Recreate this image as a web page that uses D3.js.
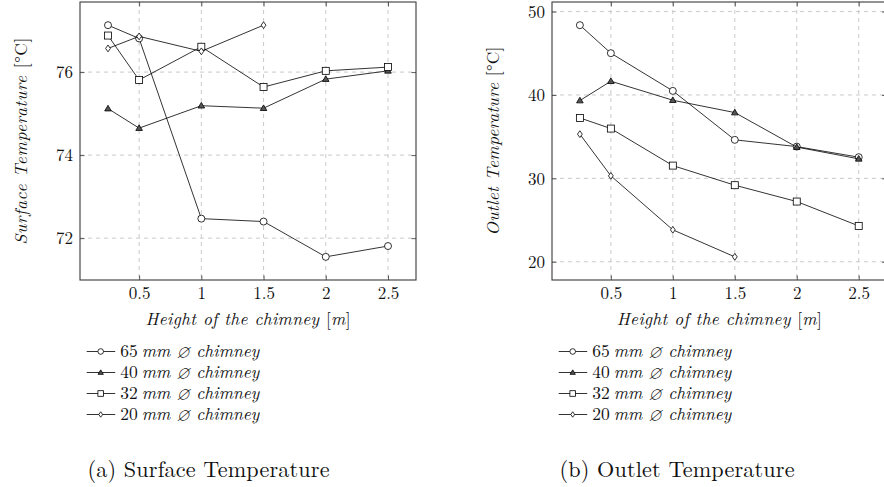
<!DOCTYPE html>
<html><head><meta charset="utf-8">
<script src="https://cdn.jsdelivr.net/npm/d3@7"></script>
<style>
html,body{margin:0;padding:0;background:#fff;}
</style></head>
<body>
<svg id="chart" width="884" height="487"></svg>
<script>
const heights = [0.25, 0.5, 1, 1.5, 2, 2.5];
const xTicks = [0.5, 1, 1.5, 2, 2.5];
const seriesNames = ["65", "40", "32", "20"];
const seriesMarkers = ["circle", "triangle", "square", "diamond"];
const surface65 = [77.13, 76.81, 72.47, 72.40, 71.55, 71.81];
const surface40 = [75.12, 74.65, 75.19, 75.13, 75.83, 76.03];
const surface32 = [76.88, 75.81, 76.61, 75.64, 76.03, 76.12];
const surface20 = [76.57, 76.86, 76.50, 77.13];
const outlet65 = [48.37, 45.01, 40.49, 34.62, 33.81, 32.54];
const outlet40 = [39.33, 41.65, 39.37, 37.89, 33.75, 32.34];
const outlet32 = [37.25, 35.97, 31.53, 29.18, 27.22, 24.30];
const outlet20 = [35.30, 30.30, 23.83, 20.59];
const surfaceTicks = [72, 74, 76];
const outletTicks = [20, 30, 40, 50];

const svg = d3.select("#chart");
const FONT = "'Latin Modern Roman', 'Liberation Serif', serif";

function enlarge(ext) { const d = (ext[1] - ext[0]) * 0.1; return [ext[0] - d, ext[1] + d]; }

function marker(g, type, x, y, s) {
  if (type === "circle") {
    g.append("circle").attr("cx", x).attr("cy", y).attr("r", 3.5 * s).attr("fill", "#fff").attr("stroke", "#000").attr("stroke-width", 0.8);
  } else if (type === "square") {
    const h = 3.5 * s;
    g.append("rect").attr("x", x - h).attr("y", y - h).attr("width", 2 * h).attr("height", 2 * h).attr("fill", "#fff").attr("stroke", "#000").attr("stroke-width", 0.8);
  } else if (type === "triangle") {
    const h = 3.3 * s;
    g.append("path").attr("d", `M${x},${y - h}L${x + h},${y + h * 0.7}L${x - h},${y + h * 0.7}Z`).attr("fill", "#555").attr("stroke", "#000").attr("stroke-width", 0.8);
  } else {
    const w = 2.4 * s, h = 3.4 * s;
    g.append("path").attr("d", `M${x},${y - h}L${x + w},${y}L${x},${y + h}L${x - w},${y}Z`).attr("fill", "#fff").attr("stroke", "#000").attr("stroke-width", 0.8);
  }
}

function panel(opts) {
  const { left, right, top, bottom, series, yTicks, yLabel, caption, yLabelX, yLabelLen, capLen } = opts;
  const g = svg.append("g");
  const allVals = series.flat();
  const x = d3.scaleLinear().domain(enlarge(d3.extent(heights))).range([left, right]);
  const y = d3.scaleLinear().domain(enlarge(d3.extent(allVals))).range([bottom, top]);

  g.selectAll(".gx").data(xTicks).enter().append("line")
    .attr("x1", d => x(d)).attr("x2", d => x(d)).attr("y1", top).attr("y2", bottom)
    .attr("stroke", "#c4c4c4").attr("stroke-width", 0.9).attr("stroke-dasharray", "4,4");
  g.selectAll(".gy").data(yTicks).enter().append("line")
    .attr("x1", left).attr("x2", right).attr("y1", d => y(d)).attr("y2", d => y(d))
    .attr("stroke", "#c4c4c4").attr("stroke-width", 0.9).attr("stroke-dasharray", "4,4");

  const ax = g.append("g").attr("transform", `translate(0,${bottom})`)
    .call(d3.axisBottom(x).tickValues(xTicks).tickSize(-4.5).tickPadding(6.5).tickFormat(d3.format("")));
  const ay = g.append("g").attr("transform", `translate(${left},0)`)
    .call(d3.axisLeft(y).tickValues(yTicks).tickSize(-4.5).tickPadding(7).tickFormat(d3.format("")));
  const axT = g.append("g").attr("transform", `translate(0,${top})`)
    .call(d3.axisTop(x).tickValues(xTicks).tickSize(-4.5).tickFormat(""));
  const ayR = g.append("g").attr("transform", `translate(${right},0)`)
    .call(d3.axisRight(y).tickValues(yTicks).tickSize(-4.5).tickFormat(""));
  [ax, ay, axT, ayR].forEach(a => {
    a.attr("font-family", null);
    a.select(".domain").remove();
    a.selectAll(".tick line").attr("stroke", "#333").attr("stroke-width", 0.8);
    a.selectAll("text").style("font-family", FONT).attr("font-size", 17).attr("fill", "#111");
  });
  ax.selectAll("text").attr("dy", "0.71em");
  ay.selectAll("text").attr("dy", "0.34em");

  g.append("rect").attr("x", left).attr("y", top).attr("width", right - left).attr("height", bottom - top)
    .attr("fill", "none").attr("stroke", "#3a3a3a").attr("stroke-width", 1.1);

  const line = d3.line().x((d, i) => x(heights[i])).y(d => y(d));
  series.forEach((vals, si) => {
    g.append("path").attr("d", line(vals)).attr("fill", "none").attr("stroke", "#000").attr("stroke-width", 0.8);
    vals.forEach((v, i) => marker(g, seriesMarkers[si], x(heights[i]), y(v), 1));
  });

  // x label
  const xl = g.append("text").attr("x", (left + right) / 2).attr("y", 325)
    .attr("text-anchor", "middle").attr("font-size", 17.5).attr("fill", "#111")
    .style("font-family", FONT).attr("textLength", 205).attr("lengthAdjust", "spacing");
  xl.append("tspan").attr("font-style", "italic").text("Height of the chimney ");
  xl.append("tspan").text("[");
  xl.append("tspan").attr("font-style", "italic").text("m");
  xl.append("tspan").text("]");

  // y label
  const yl = g.append("text").attr("transform", `translate(${yLabelX},${(top + bottom) / 2}) rotate(-90)`)
    .attr("text-anchor", "middle").attr("font-size", 17.5).attr("fill", "#111")
    .style("font-family", FONT).attr("textLength", yLabelLen).attr("lengthAdjust", "spacing");
  yl.append("tspan").attr("font-style", "italic").text(yLabel + " ");
  yl.append("tspan").text("[°C]");

  // legend
  const lx = left + 6.7;
  seriesNames.forEach((name, i) => {
    const cy = 351.5 + i * 21;
    g.append("line").attr("x1", lx).attr("x2", lx + 28.5).attr("y1", cy).attr("y2", cy).attr("stroke", "#000").attr("stroke-width", 0.8);
    marker(g, seriesMarkers[i], lx + 14, cy, 0.8);
    const num = g.append("text").attr("x", lx + 33.5).attr("y", cy + 5.5).attr("font-size", 17.5).attr("fill", "#111")
      .style("font-family", FONT).text(name);
    const w = num.node().getComputedTextLength();
    g.append("text").attr("x", lx + 33.5 + w + 4).attr("y", cy + 5.5).attr("font-size", 17.5).attr("fill", "#111")
      .attr("font-style", "italic").style("font-family", FONT).text("mm ⌀ chimney");
  });

  // caption
  g.append("text").attr("x", left + 7.5).attr("y", 476.5).attr("font-size", 22.2).attr("fill", "#111")
    .style("font-family", FONT).attr("textLength", capLen).attr("lengthAdjust", "spacing").text(caption);
}

panel({ left: 80, right: 416, top: 2, bottom: 280, series: [surface65, surface40, surface32, surface20],
  yTicks: surfaceTicks, yLabel: "Surface Temperature", caption: "(a) Surface Temperature", yLabelX: 27,
  yLabelLen: 207, capLen: 242 });
panel({ left: 552, right: 886.6, top: 2, bottom: 280, series: [outlet65, outlet40, outlet32, outlet20],
  yTicks: outletTicks, yLabel: "Outlet Temperature", caption: "(b) Outlet Temperature", yLabelX: 498.5,
  yLabelLen: 189, capLen: 235 });
</script>
</body></html>
